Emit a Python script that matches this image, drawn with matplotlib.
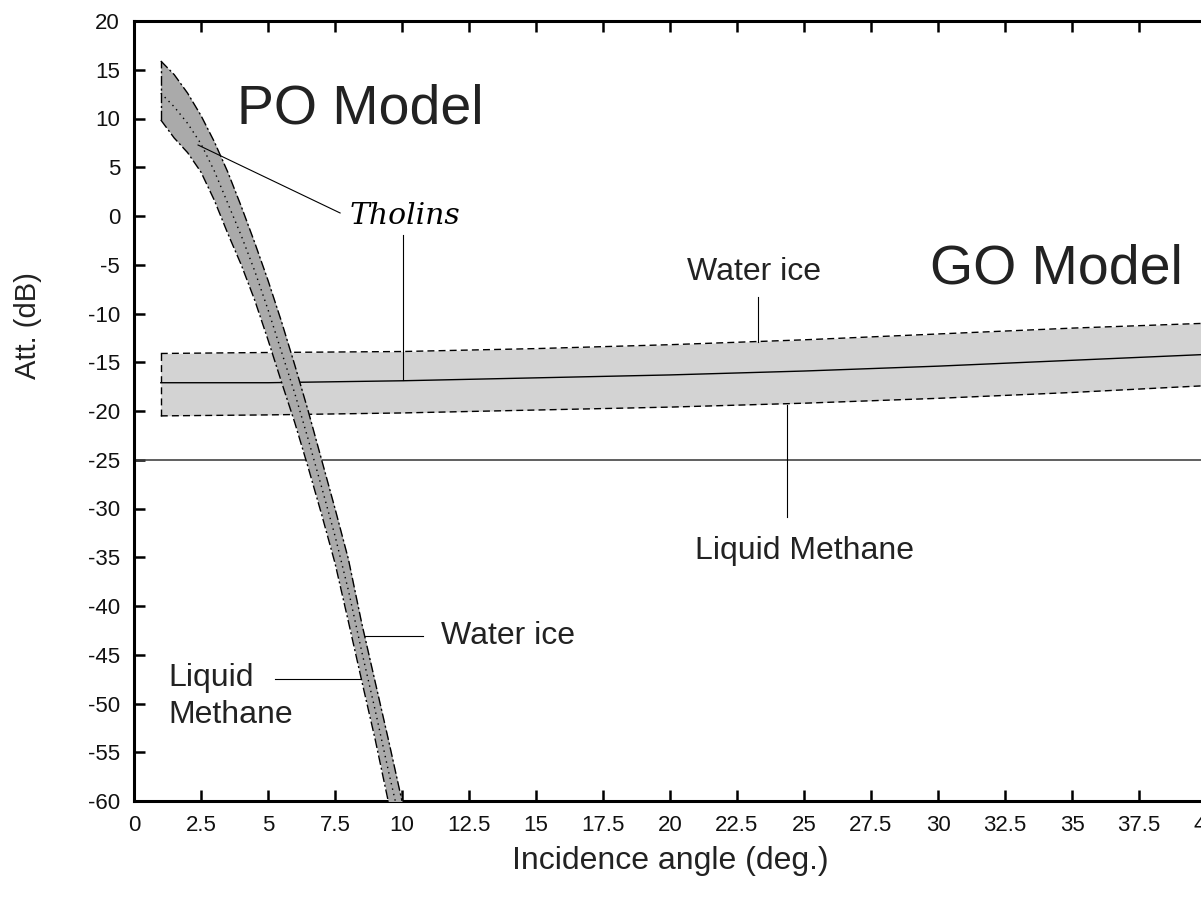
import matplotlib
matplotlib.use("Agg")
import matplotlib.pyplot as plt
import numpy as np

plt.rcParams['font.family'] = ['Liberation Sans', 'DejaVu Sans']
plt.rcParams['axes.unicode_minus'] = False

# ---- GO model (geometric optics) ----
go_angle = [1, 5, 10, 15, 20, 25, 30, 35, 40]
go_water_ice = [-14.1, -14.0, -13.9, -13.6, -13.2, -12.7, -12.1, -11.5, -11.0]
go_tholins = [-17.1, -17.1, -16.9, -16.6, -16.3, -15.9, -15.4, -14.8, -14.2]
go_liquid_methane = [-20.5, -20.4, -20.2, -19.9, -19.6, -19.2, -18.7, -18.1, -17.4]

# ---- PO model (physical optics) ----
po_angle = [1, 1.5, 2, 2.5, 3, 3.5, 4, 4.5, 5, 5.5, 6, 6.5, 7, 7.5, 8, 8.5, 9, 9.5, 10]
po_water_ice = [15.9, 14.5, 12.6, 10.3, 7.6, 4.5, 1.0, -2.7, -6.6, -10.8, -15.3, -20.0,
                -25.0, -30.0, -35.2, -41.8, -47.8, -53.8, -60.0]
po_tholins = [12.6, 11.2, 9.5, 7.4, 4.6, 1.3, -2.0, -5.6, -9.6, -13.9, -18.2, -22.9,
              -27.8, -32.8, -38.4, -44.7, -50.7, -57.0, -63.0]
po_liquid_methane = [9.85, 8.0, 6.5, 4.5, 1.6, -1.8, -5.0, -8.6, -12.7, -17.0, -21.2, -25.8,
                     -30.6, -35.6, -41.6, -47.7, -53.7, -60.2, -66.0]

threshold = -25

x_ticks = [0, 2.5, 5, 7.5, 10, 12.5, 15, 17.5, 20, 22.5, 25, 27.5, 30, 32.5, 35, 37.5, 40]
x_tick_labels = ['0', '2.5', '5', '7.5', '10', '12.5', '15', '17.5', '20', '22.5', '25',
                 '27.5', '30', '32.5', '35', '37.5', '40']
y_ticks = list(range(-60, 25, 5))

W, H = 1201, 906
fig = plt.figure(figsize=(W / 100, H / 100), dpi=100)
ax = fig.add_axes([134 / W, (H - 801) / H, 1072 / W, 780 / H])
ax.set_xlim(0, 40)
ax.set_ylim(-60, 20)

# GO band
ax.fill_between(go_angle, go_liquid_methane, go_water_ice, color='#d3d3d3', lw=0, zorder=1)
ax.plot(go_angle, go_water_ice, color='black', lw=1.0, ls=(0, (5, 3)), zorder=2)
ax.plot(go_angle, go_liquid_methane, color='black', lw=1.0, ls=(0, (5, 3)), zorder=2)
ax.plot([go_angle[0], go_angle[0]], [go_liquid_methane[0], go_water_ice[0]],
        color='black', lw=1.0, ls=(0, (5, 3)), zorder=2)
ax.plot(go_angle, go_tholins, color='black', lw=1.0, zorder=2)

# threshold line
ax.axhline(threshold, color='#444444', lw=1.2, zorder=2)

# PO band
ax.fill_between(po_angle, po_liquid_methane, po_water_ice, color='#aaaaaa', lw=0, zorder=3)
ax.plot(po_angle, po_water_ice, color='black', lw=1.0, ls=(0, (7, 2, 1.5, 2)), zorder=4)
ax.plot(po_angle, po_liquid_methane, color='black', lw=1.0, ls=(0, (7, 2, 1.5, 2)), zorder=4)
ax.plot([po_angle[0], po_angle[0]], [po_liquid_methane[0], po_water_ice[0]],
        color='black', lw=1.0, ls=(0, (7, 2, 1.5, 2)), zorder=4)
ax.plot(po_angle, po_tholins, color='black', lw=1.0, ls=(0, (1, 3)), zorder=4)

# axes styling
for s in ax.spines.values():
    s.set_linewidth(2.2)
ax.set_xticks(x_ticks)
ax.set_xticklabels(x_tick_labels)
ax.set_yticks(y_ticks)
ax.tick_params(direction='in', length=8, width=1.8, labelsize=16, labelcolor='#111111',
               top=True, right=False)
ax.tick_params(axis='x', pad=10)
ax.tick_params(axis='y', pad=10)
ax.set_xlabel('Incidence angle (deg.)', fontsize=23, labelpad=7, color='#222222')
fig.text(28 / W, 1 - 326 / H, 'Att. (dB)', rotation=90, fontsize=21,
         ha='center', va='center', color='#222222')

# titles
ax.text(3.84, 10.9, 'PO Model', fontsize=40, ha='left', va='center', color='#222222')
ax.text(29.7, -5.5, 'GO Model', fontsize=40, ha='left', va='center', color='#222222')

# annotations
lead = dict(color='black', lw=0.8, zorder=5)
ax.text(8.06, 0.0, 'Tholins', fontsize=21.5, family='DejaVu Serif', style='italic',
        ha='left', va='center')
ax.plot([2.39, 7.69], [7.28, 0.31], **lead)
ax.plot([10.04, 10.04], [-1.95, -16.8], **lead)

ax.text(20.63, -5.74, 'Water ice', fontsize=23, ha='left', va='center', color='#222222')
ax.plot([23.27, 23.27], [-8.35, -12.9], **lead)

ax.text(20.93, -34.4, 'Liquid Methane', fontsize=23, ha='left', va='center', color='#222222')
ax.plot([24.37, 24.37], [-19.4, -30.9], **lead)

ax.text(11.46, -43.08, 'Water ice', fontsize=23, ha='left', va='center', color='#222222')
ax.plot([8.62, 10.78], [-43.1, -43.1], **lead)

ax.text(1.27, -49.3, 'Liquid\nMethane', fontsize=23, ha='left', va='center',
        linespacing=1.32, color='#222222')
ax.plot([5.26, 8.43], [-47.5, -47.5], **lead)

fig.savefig('out.png', dpi=100)
